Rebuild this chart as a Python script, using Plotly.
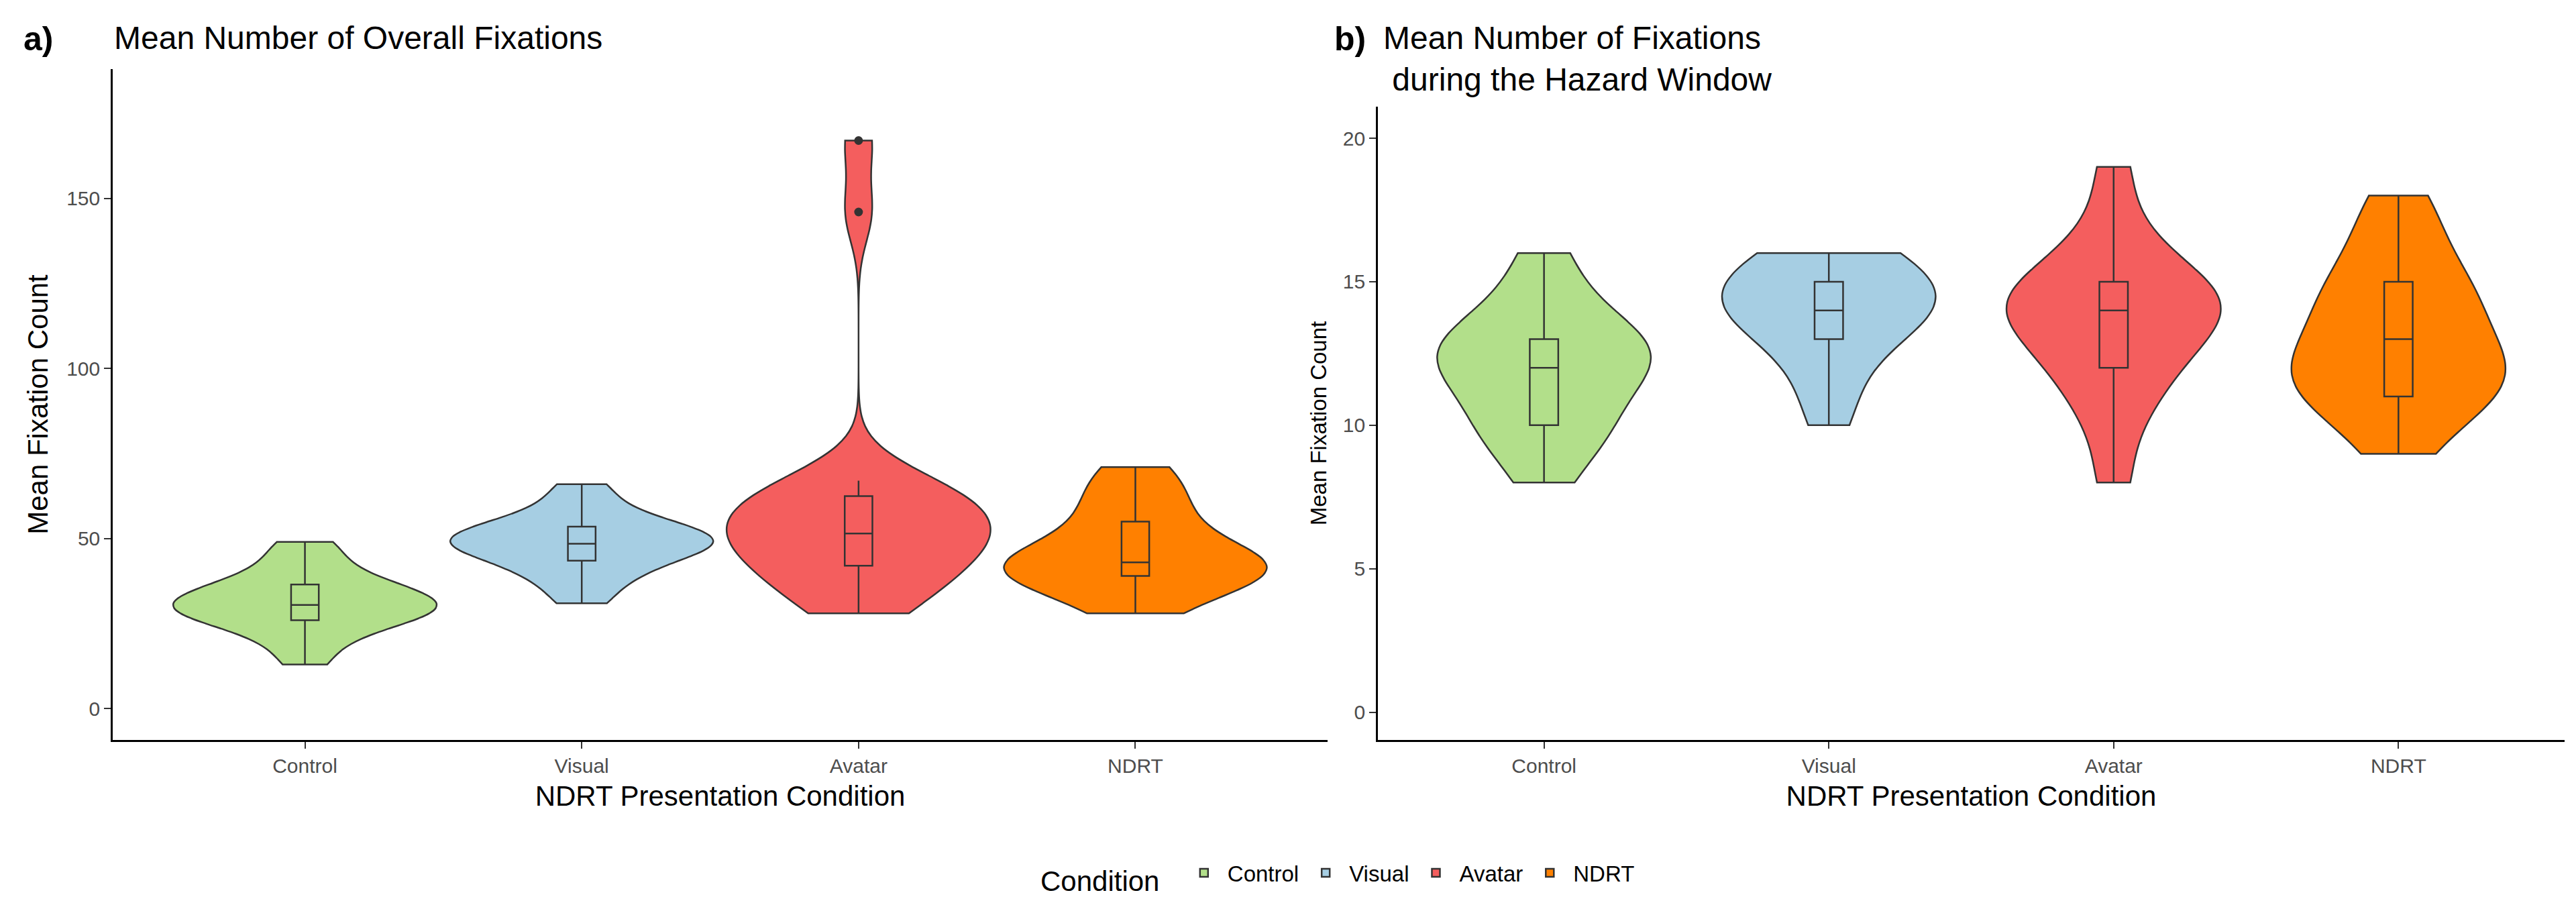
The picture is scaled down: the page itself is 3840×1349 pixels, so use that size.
import plotly.graph_objects as go
from plotly.subplots import make_subplots

conditions = ["Control", "Visual", "Avatar", "NDRT"]
colors = ["#B2DF8A", "#A6CEE3", "#F45E5E", "#FF8000"]

overall = {
    "Control": [13, 18, 22, 25, 25, 27, 28, 29, 30, 30, 31, 32, 33, 34, 36, 37, 38, 42, 46, 49],
    "Visual": [31, 35, 39, 41, 42, 45, 46, 47, 48, 48, 49, 50, 51, 52, 53, 54, 55, 58, 62, 66],
    "Avatar": [28, 32, 36, 38, 40, 44, 47, 49, 50, 51, 52, 55, 58, 60, 62, 63, 65, 67, 146, 167],
    "NDRT": [28, 32, 35, 37, 38, 40, 41, 42, 42, 43, 43, 44, 46, 50, 54, 56, 60, 64, 68, 71],
}
# panel b: fixations during the hazard window
hazard = {
    "Control": [8, 9, 10, 10, 10, 11, 12, 12, 12, 12, 13, 13, 13, 13, 14, 15, 16],
    "Visual": [10, 11, 12, 13, 13, 14, 14, 14, 14, 14, 15, 15, 15, 15, 16, 16, 16],
    "Avatar": [8, 10, 11, 12, 12, 13, 13, 14, 14, 14, 14, 15, 15, 15, 16, 17, 19],
    "NDRT": [9, 10, 11, 11, 11, 12, 12, 12, 13, 13, 14, 14, 15, 15, 16, 17, 18],
}

fig = make_subplots(rows=1, cols=2, horizontal_spacing=0.02)

for col, data, vw, bw in [(1, overall, 0.95, None), (2, hazard, 0.75, 1.2)]:
    for cond, colr in zip(conditions, colors):
        fig.add_trace(go.Violin(
            x=[cond] * len(data[cond]), y=data[cond], name=cond,
            legendgroup=cond, showlegend=(col == 1),
            fillcolor=colr, line=dict(color="#333333", width=2.5),
            opacity=1, points=False, spanmode="hard", width=vw,
            scalemode="count", scalegroup="p%d" % col, bandwidth=bw,
        ), row=1, col=col)
        fig.add_trace(go.Box(
            x=[cond] * len(data[cond]), y=data[cond], name=cond,
            legendgroup=cond, showlegend=False,
            fillcolor=colr, line=dict(color="#333333", width=2.5),
            width=0.1, whiskerwidth=0, boxpoints="outliers",
            quartilemethod="linear",
            marker=dict(color="#333333", size=13),
        ), row=1, col=col)

axis_style = dict(showgrid=False, zeroline=False, showline=True, linecolor="black",
                  linewidth=2.5, ticks="outside", ticklen=10, tickwidth=2,
                  tickcolor="#333333", tickfont=dict(size=30, color="#4D4D4D"))
fig.update_xaxes(**axis_style, title=dict(text="NDRT Presentation Condition",
                 font=dict(size=42, color="black")))
fig.update_yaxes(**axis_style)
fig.update_xaxes(domain=[0, 0.4955], row=1, col=1)
fig.update_xaxes(domain=[0.516, 1], row=1, col=2)
fig.update_yaxes(range=[-9.2, 188], tickvals=[0, 50, 100, 150],
                 title=dict(text="Mean Fixation Count", font=dict(size=42, color="black")),
                 row=1, col=1)
fig.update_yaxes(range=[-0.97, 21.1], tickvals=[0, 5, 10, 15, 20], domain=[0, 0.944],
                 title=dict(text="Mean Fixation Count", font=dict(size=33, color="black")),
                 row=1, col=2)

fig.update_layout(
    width=3840, height=1349, violinmode="overlay", boxmode="overlay",
    plot_bgcolor="white", paper_bgcolor="white",
    font=dict(family="Liberation Sans, Arial, sans-serif", color="black"),
    margin=dict(l=160, r=25, t=95, b=254),
    legend=dict(orientation="h", x=0.5, xanchor="center", y=-0.17, yanchor="top",
                font=dict(size=33), title=dict(text="Condition  ", font=dict(size=42)),
                itemwidth=60),
    annotations=[
        dict(text="<b>a)</b>", x=-0.037, y=1.075, xref="paper", yref="paper", xanchor="left",
             yanchor="top", showarrow=False, font=dict(size=50)),
        dict(text="Mean Number of Overall Fixations", x=0.0, y=1.075, xref="paper", yref="paper",
             xanchor="left", yanchor="top", showarrow=False, font=dict(size=48)),
        dict(text="<b>b)</b>", x=0.4977, y=1.075, xref="paper", yref="paper", xanchor="left",
             yanchor="top", showarrow=False, font=dict(size=50)),
        dict(text="Mean Number of Fixations<br> during the Hazard Window", x=0.5177, y=1.075,
             xref="paper", yref="paper", xanchor="left", yanchor="top", align="left",
             showarrow=False, font=dict(size=48)),
    ],
)

fig.write_html("out.html")
